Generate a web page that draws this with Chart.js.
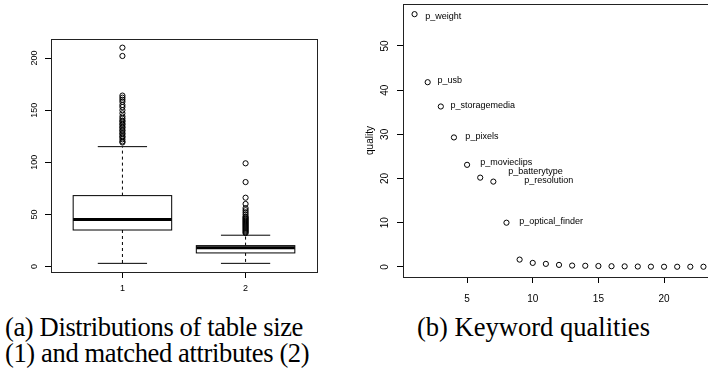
<!DOCTYPE html>
<html lang="en">
<head>
<meta charset="UTF-8">
<script src="https://cdn.jsdelivr.net/npm/chart.js"></script>
<title>Table sizes and keyword qualities</title>
<style>
    body { margin: 0; width: 708px; height: 375px; overflow: hidden; background: #fff; position: relative; }
    #boxWrap { position: absolute; left: 0; top: 0; width: 360px; height: 300px; }
    #qualWrap { position: absolute; left: 360px; top: 0; width: 360px; height: 310px; }
    .cap { position: absolute; font-family: serif; font-size: 23px; line-height: 26px; color: #000; white-space: nowrap; }
</style>
<script>
    // (a) boxplot summary
    const groups = [1, 2];
    const lowerWhisker = [3, 3];
    const q1 = [35, 13];
    const median = [45, 18];
    const q3 = [68, 20];
    const upperWhisker = [115, 30];
    const outliers1 = [119, 120, 122, 124, 125, 127, 128, 130, 131, 133, 134, 136, 137, 139, 140, 142,
                       144, 147, 150, 153, 155, 158, 160, 162, 164, 202, 210];
    const outliers2 = [32, 33, 34, 35, 36, 37, 38, 39, 40, 41, 42, 43, 44, 45, 46, 47, 48, 50, 52, 54,
                       56, 60, 66, 81, 99];
    const yTicksA = [0, 50, 100, 150, 200];

    // (b) keyword qualities
    const keywordIndex = [1, 2, 3, 4, 5, 6, 7, 8, 9, 10, 11, 12, 13, 14, 15, 16, 17, 18, 19, 20, 21, 22, 23];
    const quality = [57.2, 41.8, 36.3, 29.3, 23.1, 20.2, 19.3, 10.0, 1.65, 0.9, 0.68, 0.45, 0.3, 0.25,
                     0.2, 0.15, 0.12, 0.08, 0.05, 0.03, 0.03, 0.03, 0.03];
    const keywordNames = ['p_weight', 'p_usb', 'p_storagemedia', 'p_pixels', 'p_movieclips',
                          'p_batterytype', 'p_resolution', 'p_optical_finder'];
    const nameX = [1.82, 2.74, 3.73, 4.87, 6.01, 8.14, 9.36, 8.98];
    const nameY = [56.7, 42.2, 36.5, 29.5, 23.6, 21.6, 19.6, 10.3];
    const xTicksB = [5, 10, 15, 20];
    const yTicksB = [0, 10, 20, 30, 40, 50];

    function fixedTicks(list) {
        return function(scale) { scale.ticks = list.map(v => ({ value: v })); };
    }

    // first serif face that really exists here
    function pickSerif() {
        const names = ['Liberation Serif', 'DejaVu Serif', 'Noto Serif', 'Times New Roman', 'Times',
                       'Nimbus Roman', 'FreeSerif', 'Tinos', 'Georgia'];
        const c = document.createElement('canvas').getContext('2d');
        const s = 'Distributions of table size (1) WMiil';
        c.font = '40px monospace';
        const base = c.measureText(s).width;
        for (const n of names) {
            c.font = '40px "' + n + '", monospace';
            if (Math.abs(c.measureText(s).width - base) > 1) return '"' + n + '", serif';
        }
        return 'serif';
    }

    // frame around the plot area + rotated y labels (R style)
    function framePlugin(labelPos, fontSize, ylab) {
        return {
            id: 'frame',
            afterDraw(chart) {
                const c = chart.ctx, a = chart.chartArea, ys = chart.scales.y;
                c.save();
                c.strokeStyle = '#222';
                c.lineWidth = 1;
                c.strokeRect(Math.round(a.left) + 0.5, Math.round(a.top) + 0.5,
                             Math.round(a.right - a.left), Math.round(a.bottom - a.top));
                c.fillStyle = '#000';
                c.font = fontSize + 'px "Liberation Sans"';
                c.textAlign = 'center';
                c.textBaseline = 'middle';
                ys.ticks.forEach(t => {
                    c.save();
                    c.translate(labelPos, ys.getPixelForValue(t.value));
                    c.rotate(-Math.PI / 2);
                    c.fillText(String(t.value), 0, 0);
                    c.restore();
                });
                if (ylab) {
                    c.save();
                    c.translate(ylab.x, (a.top + a.bottom) / 2);
                    c.rotate(-Math.PI / 2);
                    c.fillText(ylab.text, 0, 0);
                    c.restore();
                }
                c.restore();
            }
        };
    }

    const boxPlugin = {
        id: 'boxes',
        beforeDatasetsDraw(chart) {
            const c = chart.ctx, xs = chart.scales.x, ys = chart.scales.y;
            c.save();
            c.strokeStyle = '#000';
            for (let i = 0; i < groups.length; i++) {
                const xc = xs.getPixelForValue(groups[i]);
                const bw = xs.getPixelForValue(groups[i] + 0.4) - xc;
                const sw = xs.getPixelForValue(groups[i] + 0.2) - xc;
                const yq1 = ys.getPixelForValue(q1[i]), yq3 = ys.getPixelForValue(q3[i]);
                const ylo = ys.getPixelForValue(lowerWhisker[i]), yhi = ys.getPixelForValue(upperWhisker[i]);
                // whiskers
                c.lineWidth = 1;
                c.setLineDash([3, 3]);
                c.beginPath();
                c.moveTo(xc, yq3); c.lineTo(xc, yhi);
                c.moveTo(xc, yq1); c.lineTo(xc, ylo);
                c.stroke();
                c.setLineDash([]);
                c.beginPath();
                c.moveTo(xc - sw, yhi); c.lineTo(xc + sw, yhi);
                c.moveTo(xc - sw, ylo); c.lineTo(xc + sw, ylo);
                c.stroke();
                // box
                c.fillStyle = '#fff';
                c.fillRect(xc - bw, yq3, 2 * bw, yq1 - yq3);
                c.strokeRect(xc - bw, yq3, 2 * bw, yq1 - yq3);
                // median
                c.lineWidth = 3;
                c.beginPath();
                const ym = ys.getPixelForValue(median[i]);
                c.moveTo(xc - bw, ym); c.lineTo(xc + bw, ym);
                c.stroke();
            }
            c.restore();
        }
    };

    const pointStyle = {
        showLine: false, pointRadius: 2.6, pointHoverRadius: 2.6, pointBorderWidth: 1,
        pointBorderColor: '#000', pointBackgroundColor: 'rgba(0,0,0,0)'
    };

    const namePlugin = {
        id: 'names',
        afterDatasetsDraw(chart) {
            const c = chart.ctx, xs = chart.scales.x, ys = chart.scales.y;
            c.save();
            c.fillStyle = '#000';
            c.font = '9px "Liberation Sans"';
            c.textAlign = 'left';
            c.textBaseline = 'middle';
            keywordNames.forEach((n, i) => {
                c.fillText(n, xs.getPixelForValue(nameX[i]), ys.getPixelForValue(nameY[i]));
            });
            c.restore();
        }
    };

    window.onload = function() {
        Chart.defaults.animation = false;
        Chart.defaults.color = '#000';

        // captions: serif, sized so the widths match the printed ones
        const fam = pickSerif();
        const capA = document.getElementById('capA'), capB = document.getElementById('capB');
        [capA, capB].forEach(el => { el.style.fontFamily = fam; });
        const wB = capB.getBoundingClientRect().width;
        const size = Math.max(19, Math.min(27, 23 * 233 / wB));
        [capA, capB].forEach(el => { el.style.fontSize = size + 'px'; });
        const lineA = document.getElementById('lineA');
        const wA = lineA.getBoundingClientRect().width;
        capA.style.letterSpacing = ((298 - wA) / lineA.textContent.length) + 'px';

        new Chart(document.getElementById('boxChart'), {
            type: 'scatter',
            data: {
                datasets: [
                    Object.assign({ data: outliers1.map(v => ({ x: groups[0], y: v })) }, pointStyle),
                    Object.assign({ data: outliers2.map(v => ({ x: groups[1], y: v })) }, pointStyle)
                ]
            },
            options: {
                responsive: false,
                layout: { padding: { top: 39, right: 43, left: 0, bottom: 0 } },
                plugins: { legend: { display: false }, tooltip: { enabled: false } },
                scales: {
                    x: {
                        type: 'linear', min: 0.42, max: 2.58,
                        afterBuildTicks: fixedTicks(groups),
                        afterFit(s) { s.height = 28; },
                        border: { display: false },
                        grid: { drawOnChartArea: false, tickLength: 6, color: '#000' },
                        ticks: { font: { family: 'Liberation Sans', size: 9 }, padding: 5, maxRotation: 0 }
                    },
                    y: {
                        min: -5.3, max: 218.3,
                        afterBuildTicks: fixedTicks(yTicksA),
                        afterFit(s) { s.width = 51; },
                        border: { display: false },
                        grid: { drawOnChartArea: false, tickLength: 6, color: '#000' },
                        ticks: { display: false }
                    }
                }
            },
            plugins: [boxPlugin, framePlugin(35, 9, null)]
        });

        new Chart(document.getElementById('qualChart'), {
            type: 'scatter',
            data: {
                datasets: [
                    Object.assign({ data: keywordIndex.map((k, i) => ({ x: k, y: quality[i] })) }, pointStyle)
                ]
            },
            options: {
                responsive: false,
                layout: { padding: { top: 4, right: 5, left: 0, bottom: 0 } },
                plugins: { legend: { display: false }, tooltip: { enabled: false } },
                scales: {
                    x: {
                        type: 'linear', min: 0.12, max: 23.88,
                        afterBuildTicks: fixedTicks(xTicksB),
                        afterFit(s) { s.height = 33; },
                        border: { display: false },
                        grid: { drawOnChartArea: false, tickLength: 6, color: '#000' },
                        ticks: { font: { family: 'Liberation Sans', size: 10 }, padding: 10, maxRotation: 0 }
                    },
                    y: {
                        min: -2.29, max: 59.5,
                        afterBuildTicks: fixedTicks(yTicksB),
                        afterFit(s) { s.width = 43; },
                        border: { display: false },
                        grid: { drawOnChartArea: false, tickLength: 6, color: '#000' },
                        ticks: { display: false }
                    }
                }
            },
            plugins: [namePlugin, framePlugin(25, 10, { x: 10, text: 'quality' })]
        });
    };
</script>
</head>
<body>
    <div id="boxWrap"><canvas id="boxChart" width="360" height="300"></canvas></div>
    <div id="qualWrap"><canvas id="qualChart" width="360" height="310"></canvas></div>
    <div class="cap" id="capA" style="left:5px; top:314px;"><span id="lineA">(a) Distributions of table size</span><br>(1) and matched attributes (2)</div>
    <div class="cap" id="capB" style="left:417px; top:314px;">(b) Keyword qualities</div>
</body>
</html>
